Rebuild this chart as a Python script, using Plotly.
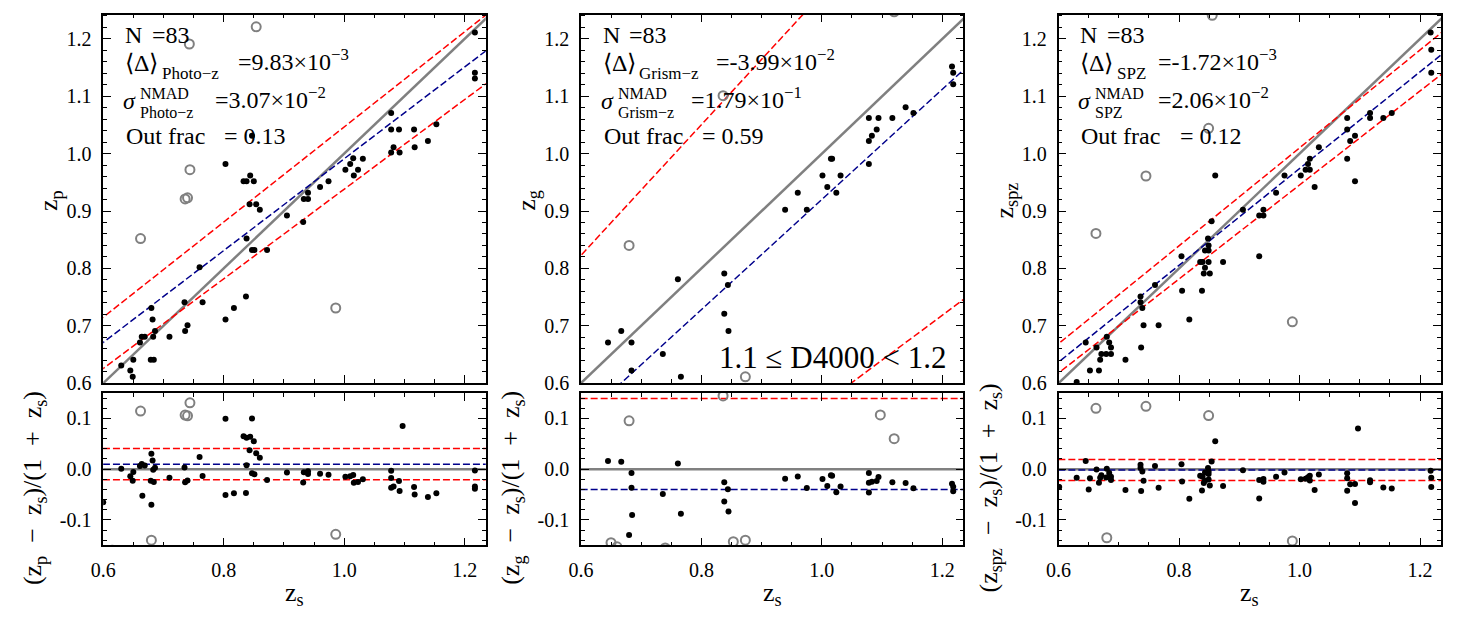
import numpy as np
import plotly.graph_objects as go

W, H = 1458, 629
FONT = "Liberation Serif"

# ---------------- data ----------------
# Panel 1 : photo-z
zs_photo = [1.217, 1.217, 1.217, 1.078, 1.078, 1.091, 1.116, 1.082, 1.078, 1.092, 1.117, 1.139, 1.153,
            0.847, 0.803, 0.833, 0.838, 0.844, 0.850, 0.843, 0.854, 0.860, 0.838, 0.847, 0.851, 0.872,
            0.905, 0.932, 0.933, 0.940, 0.940, 0.960, 0.974, 1.002, 1.010, 1.015, 1.016, 1.023, 1.031,
            0.760, 0.765, 0.735, 0.736, 0.740, 0.710, 0.680, 0.682, 0.664, 0.669, 0.683, 0.661, 0.686,
            0.679, 0.684, 0.650, 0.630, 0.645, 0.649, 0.803, 0.817, 0.837, 1.097, 0.600, 0.665, 0.680]
zp_photo = [1.211, 1.141, 1.131, 1.071, 1.042, 1.042, 1.042, 1.011, 1.002, 1.002, 1.011, 1.022, 1.051,
            1.031, 0.982, 0.952, 0.952, 0.962, 0.952, 0.912, 0.912, 0.902, 0.852, 0.832, 0.832, 0.832,
            0.892, 0.881, 0.921, 0.921, 0.932, 0.942, 0.952, 0.972, 0.982, 0.992, 0.962, 0.972, 0.991,
            0.802, 0.741, 0.741, 0.691, 0.701, 0.681, 0.731, 0.711, 0.681, 0.681, 0.681, 0.671, 0.691,
            0.641, 0.641, 0.641, 0.631, 0.622, 0.611, 0.711, 0.731, 0.751, 1.275, 0.496, 0.578, 0.562]
zs_photo_out = [0.854, 0.743, 0.744, 0.736, 0.740, 0.662, 0.986, 0.680, 0.615]
zp_photo_out = [1.221, 1.191, 0.972, 0.921, 0.923, 0.852, 0.731, 0.445, 0.357]

# Panel 2 : grism-z
zs_grism = [1.216, 1.218, 1.218, 1.139, 1.152, 1.078, 1.094, 1.117, 1.083, 1.091, 1.078, 1.078,
            1.015, 1.017, 1.001, 1.031, 1.009, 1.024, 0.960, 0.939, 0.975, 0.838, 0.844, 0.838,
            0.845, 0.761, 0.645, 0.667, 0.684, 0.736, 0.684, 0.766, 0.680, 0.685]
zg_grism = [1.152, 1.141, 1.121, 1.081, 1.071, 1.062, 1.062, 1.062, 1.031, 1.042, 1.022, 0.982,
            0.991, 0.991, 0.962, 0.962, 0.942, 0.932, 0.932, 0.902, 0.902, 0.791, 0.771, 0.721,
            0.691, 0.781, 0.671, 0.691, 0.671, 0.651, 0.622, 0.611, 0.462, 0.533]
zs_grism_out = [0.836, 0.680, 0.873, 1.097, 1.120, 0.650, 0.660, 0.740, 0.853]
zg_grism_out = [1.101, 0.840, 0.611, 1.321, 1.247, 0.411, 0.406, 0.470, 0.588]

# Panel 3 : SPZ
zs_spz = [1.2175, 1.2186, 1.2186, 1.079, 1.117, 1.117, 1.139, 1.153, 1.079, 1.084, 1.092, 1.079, 1.092,
          1.032, 1.017, 1.014, 1.010, 1.017, 1.002, 1.025, 0.975, 0.961, 0.906, 0.933, 0.940, 0.940,
          0.933, 0.860, 0.854, 0.848, 0.849, 0.843, 0.849, 0.835, 0.839, 0.849, 0.843, 0.841, 0.851,
          0.838, 0.873, 0.804, 0.805, 0.817, 0.760, 0.736, 0.736, 0.739, 0.741, 0.766, 0.737, 0.711,
          0.645, 0.680, 0.684, 0.663, 0.671, 0.679, 0.687, 0.687, 0.669, 0.652, 0.667, 0.630,
          1.097, 0.600, 0.601, 0.650]
zspz_spz = [1.211, 1.181, 1.141, 1.062, 1.071, 1.062, 1.062, 1.071, 1.042, 1.022, 1.031, 0.991, 0.952,
            1.011, 0.991, 0.982, 0.972, 0.972, 0.962, 0.942, 0.962, 0.932, 0.902, 0.892, 0.902, 0.892,
            0.821, 0.962, 0.882, 0.852, 0.840, 0.831, 0.831, 0.811, 0.811, 0.811, 0.801, 0.791, 0.791,
            0.761, 0.811, 0.821, 0.761, 0.711, 0.771, 0.751, 0.741, 0.731, 0.701, 0.701, 0.662, 0.641,
            0.671, 0.681, 0.671, 0.662, 0.651, 0.651, 0.651, 0.662, 0.641, 0.622, 0.622, 0.602,
            1.265, 0.544, 0.545, 0.584]
zs_spz_out = [0.855, 0.849, 0.745, 0.662, 0.988, 0.680]
zspz_spz_out = [1.241, 1.044, 0.961, 0.861, 0.707, 0.453]

# statistics
n_obj = [83, 83, 83]
mean_delta = [9.83e-3, -3.99e-2, -1.72e-3]
sigma_nmad = [3.07e-2, 1.79e-1, 2.06e-2]
out_frac = [0.13, 0.59, 0.12]
mean_txt = ["9.83×10<sup>−3</sup>", "-3.99×10<sup>−2</sup>", "-1.72×10<sup>−3</sup>"]
sigma_txt = ["3.07×10<sup>−2</sup>", "1.79×10<sup>−1</sup>", "2.06×10<sup>−2</sup>"]
method_sub = ["Photo−z", "Grism−z", "SPZ"]
ylab_sub = ["p", "g", "spz"]
# guide lines in the upper panels: (intercept, slope) for blue, upper red, lower red
top_blue = [(0.191, 0.800), (-0.0399, 0.9601), (0.131, 0.843)]
top_red_hi = [(0.2175, 0.829), (0.1391, 1.1391), (0.157, 0.853)]
top_red_lo = [(0.157, 0.781), (-0.2189, 0.7811), (0.1264, 0.819)]

x_ticks = [0.6, 0.8, 1.0, 1.2]
x_ticktext = ["0.6", "0.8", "1.0", "1.2"]
y_ticks_top = [0.6, 0.7, 0.8, 0.9, 1.0, 1.1, 1.2]
y_ticktext_top = ["0.6", "0.7", "0.8", "0.9", "1.0", "1.1", "1.2"]
y_ticks_bot = [-0.1, 0.0, 0.1]
y_ticktext_bot = ["-0.1", "0.0", "0.1"]

panels = [
    (zs_photo, zp_photo, zs_photo_out, zp_photo_out),
    (zs_grism, zg_grism, zs_grism_out, zg_grism_out),
    (zs_spz, zspz_spz, zs_spz_out, zspz_spz_out),
]

# ---------------- layout geometry (pixels) ----------------
PL = [91, 573, 1055]
PR = [477, 959, 1441]
TOP_Y = (15, 390)
BOT_Y = (400, 555)
XR = [0.6, 1.235]
YR_TOP = [0.6, 1.242]
YR_BOT = [-0.15, 0.15]
XLINE = np.array([0.5, 1.3])

GRAY = "#808080"
BLUE = "#00008B"
RED = "#FF0000"


def px(x):
    return x / W


def py(y):
    return 1 - y / H


fig = go.Figure()
layout_axes = {}
annotations = []


def ann(text, x, y, size, xanchor="left", yanchor="middle", angle=0, pad=1):
    annotations.append(dict(text=text, x=px(x), y=py(y), xref="paper", yref="paper",
                            xanchor=xanchor, yanchor=yanchor, showarrow=False, textangle=angle,
                            borderpad=pad, font=dict(family=FONT, size=size, color="black")))


def axis_common():
    return dict(showgrid=False, zeroline=False, showline=True, linecolor="black", linewidth=1.5,
                mirror="allticks", ticks="inside", ticklen=8, tickwidth=1.2, tickcolor="black",
                tickfont=dict(family=FONT, size=20, color="black"), ticklabelstandoff=6)


for i, (zs, zz, zso, zzo) in enumerate(panels):
    xt, yt = 2 * i + 1, 2 * i + 2  # top axes, bottom axes indices
    xdom = [px(PL[i]), px(PR[i])]
    zs = np.array(zs); zz = np.array(zz); zso = np.array(zso); zzo = np.array(zzo)
    r = (zz - zs) / (1 + zs)
    ro = (zzo - zso) / (1 + zso)

    # ---- top panel
    xa, ya = f"x{xt}", f"y{xt}"
    fig.add_trace(go.Scatter(x=XLINE, y=XLINE, mode="lines", line=dict(color=GRAY, width=2.5),
                             xaxis=xa, yaxis=ya, showlegend=False))
    for (a, b), col in [(top_red_hi[i], RED), (top_red_lo[i], RED), (top_blue[i], BLUE)]:
        fig.add_trace(go.Scatter(x=XLINE, y=a + b * XLINE, mode="lines",
                                 line=dict(color=col, width=1.5, dash="7px,3px"),
                                 xaxis=xa, yaxis=ya, showlegend=False))
    fig.add_trace(go.Scatter(x=zs, y=zz, mode="markers", marker=dict(color="black", size=6, line=dict(width=0)),
                             xaxis=xa, yaxis=ya, showlegend=False))
    fig.add_trace(go.Scatter(x=zso, y=zzo, mode="markers",
                             marker=dict(symbol="circle-open", color=GRAY, size=9, line=dict(width=2, color=GRAY)),
                             xaxis=xa, yaxis=ya, showlegend=False))

    # ---- bottom panel
    xb, yb = f"x{yt}", f"y{yt}"
    fig.add_trace(go.Scatter(x=XLINE, y=0 * XLINE, mode="lines", line=dict(color=GRAY, width=2.5),
                             xaxis=xb, yaxis=yb, showlegend=False))
    for lev, col in [(mean_delta[i] + sigma_nmad[i], RED), (mean_delta[i] - sigma_nmad[i], RED),
                     (mean_delta[i], BLUE)]:
        fig.add_trace(go.Scatter(x=XLINE, y=lev + 0 * XLINE, mode="lines",
                                 line=dict(color=col, width=1.5, dash="7px,3px"),
                                 xaxis=xb, yaxis=yb, showlegend=False))
    fig.add_trace(go.Scatter(x=zs, y=r, mode="markers", marker=dict(color="black", size=6, line=dict(width=0)),
                             xaxis=xb, yaxis=yb, showlegend=False))
    fig.add_trace(go.Scatter(x=zso, y=ro, mode="markers",
                             marker=dict(symbol="circle-open", color=GRAY, size=9, line=dict(width=2, color=GRAY)),
                             xaxis=xb, yaxis=yb, showlegend=False))

    key = lambda n: "xaxis" if n == 1 else f"xaxis{n}"
    keyy = lambda n: "yaxis" if n == 1 else f"yaxis{n}"
    xminor = dict(ticks="inside", ticklen=4, tickwidth=1, tickcolor="black", dtick=0.05, tick0=0.6)
    yminor = dict(ticks="inside", ticklen=4, tickwidth=1, tickcolor="black", dtick=0.02, tick0=0.0)
    layout_axes[key(xt)] = dict(axis_common(), domain=xdom, range=XR, anchor=f"y{xt}", tickvals=x_ticks,
                                ticktext=x_ticktext, showticklabels=False, minor=xminor, matches=f"x{yt}")
    layout_axes[keyy(xt)] = dict(axis_common(), domain=[py(TOP_Y[1]), py(TOP_Y[0])], range=YR_TOP,
                                 anchor=f"x{xt}", tickvals=y_ticks_top, ticktext=y_ticktext_top, minor=yminor)
    layout_axes[key(yt)] = dict(axis_common(), domain=xdom, range=XR, anchor=f"y{yt}", tickvals=x_ticks,
                                ticktext=x_ticktext, minor=xminor)
    layout_axes[keyy(yt)] = dict(axis_common(), domain=[py(BOT_Y[1]), py(BOT_Y[0])], range=YR_BOT,
                                 anchor=f"x{yt}", tickvals=y_ticks_bot, ticktext=y_ticktext_bot, minor=yminor)

    # ---- texts
    L = PL[i]
    ann("N", L + 20, 36, 24)
    ann(f"={n_obj[i]}", L + 47, 36, 24)
    ann("⟨Δ⟩", L + 20, 64, 24)
    ann(method_sub[i], L + 57, 75, 17)
    eq1 = [134, 134, 98][i]
    ann("=" + mean_txt[i], L + eq1, 61, 24)
    ann("<i>σ</i>", L + 18, 103, 24)
    ann("NMAD", L + 36, 104.5, 16, yanchor="bottom", pad=0)
    ann(method_sub[i], L + 36, 104.5, 16, yanchor="top", pad=0)
    eq2 = [111, 109, 98][i]
    ann("=" + sigma_txt[i], L + eq2, 100, 24)
    ann("Out frac", L + 21, 138, 24)
    ann(f"= {out_frac[i]:.2f}", L + 120, 138, 24)

    ann(f"z<sub>{ylab_sub[i]}</sub>", L - 53, 204, 26, xanchor="center", angle=-90)
    ann(f"(z<sub>{ylab_sub[i]}</sub>  −  z<sub>s</sub>)/(1  +  z<sub>s</sub>)", L - 69, 497, 26,
        xanchor="center", angle=-90)
    ann("z<sub>s</sub>", (PL[i] + PR[i]) / 2, 605, 26, xanchor="center")

ann("1.1 ≤ D4000 < 1.2", 943, 364, 31, xanchor="right")

fig.update_layout(width=W, height=H, margin=dict(l=0, r=0, t=0, b=0), paper_bgcolor="white",
                  plot_bgcolor="white", showlegend=False, annotations=annotations,
                  font=dict(family=FONT, color="black"), **layout_axes)

fig.write_html("out.html")
